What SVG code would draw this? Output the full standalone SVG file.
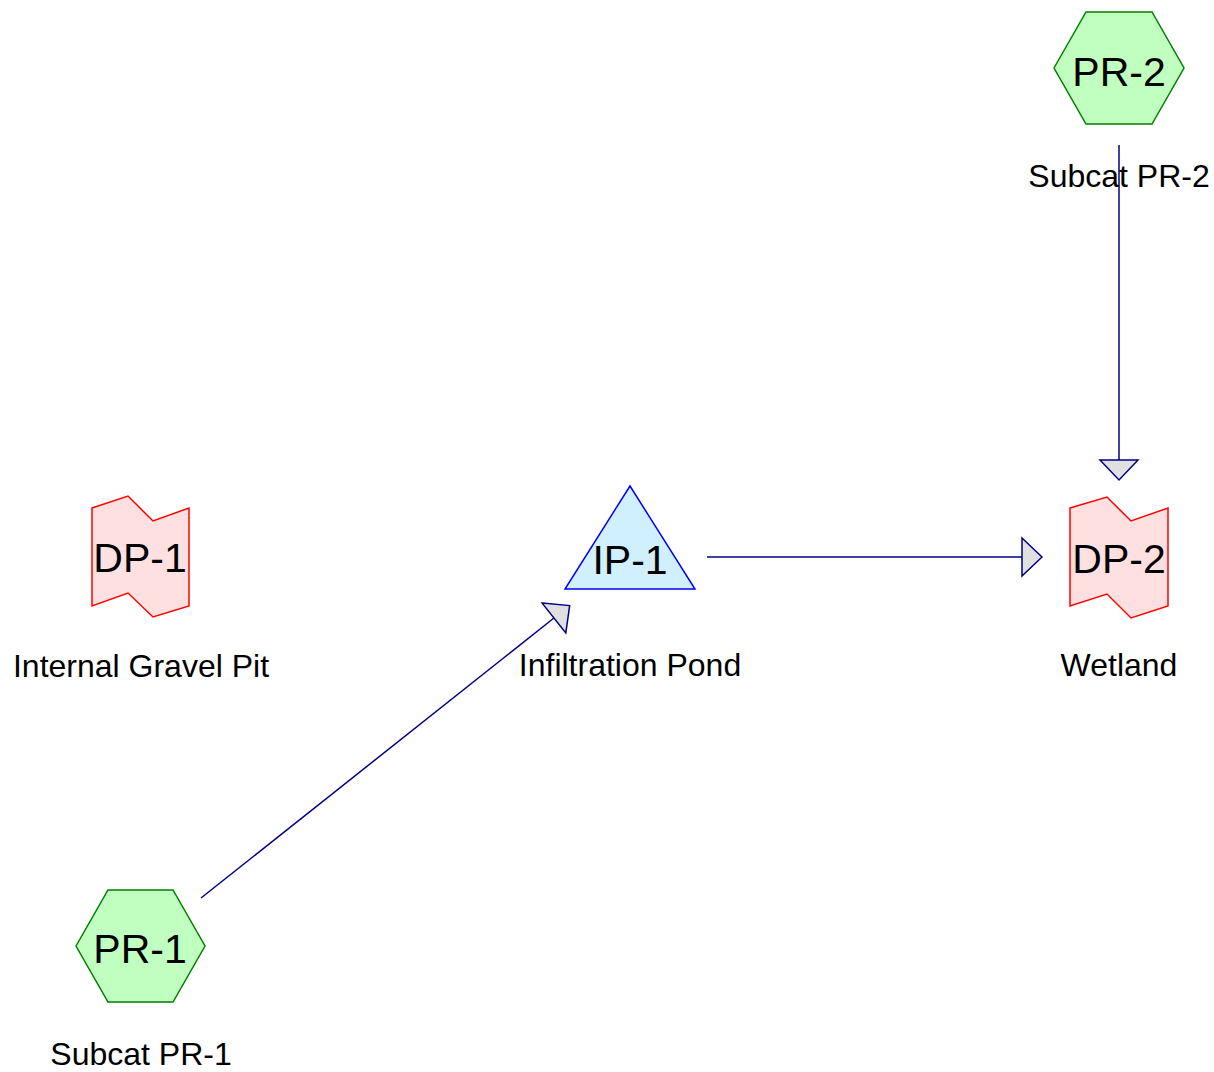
<svg xmlns="http://www.w3.org/2000/svg" width="1214" height="1072" viewBox="0 0 1214 1072">
  <style>
    .subcat { fill: #c0ffc0; stroke: #008000; stroke-width: 1.5; }
    .link { fill: #ffe0e0; stroke: #ff0000; stroke-width: 1.5; }
    .pond { fill: #d0f0ff; stroke: #0000ff; stroke-width: 1.5; }
    .id { font-family: "Liberation Sans", Arial, sans-serif; font-size: 41px; fill: #000; text-anchor: middle; }
    .label { font-family: "Liberation Sans", Arial, sans-serif; font-size: 32px; fill: #000; text-anchor: middle; }
    .flow { fill: none; stroke: #000080; stroke-width: 1.5; marker-end: url(#head); }
  </style>
  <defs>
    <marker id="head" markerUnits="userSpaceOnUse" markerWidth="24" markerHeight="44" viewBox="-2 -21 24 42" refX="0" refY="0" orient="auto" overflow="visible">
      <path d="M0,-19 L20,0 L0,19 Z" fill="#e0e0e0" stroke="#000080" stroke-width="1.5" stroke-linejoin="miter"/>
    </marker>
  </defs>
  <rect width="1214" height="1072" fill="#ffffff"/>

  <!-- routing connectors -->
  <g id="connectors">
    <path class="flow" d="M1119,145 L1119,460"/>
    <path class="flow" d="M707,557 L1022,557"/>
    <path class="flow" d="M201,898 L554,618"/>
  </g>

  <!-- subcatchment PR-2 -->
  <g id="PR-2">
    <polygon class="subcat" points="1054,68 1086,12 1152,12 1184,68 1152,124 1086,124"/>
    <text class="id" x="1119" y="86">PR-2</text>
    <text class="label" x="1119" y="187">Subcat PR-2</text>
  </g>

  <!-- design point DP-1 -->
  <g id="DP-1">
    <polygon class="link" points="92,508 128,496 153,521 189,508 189,606 153,617 128,593 92,606"/>
    <text class="id" x="140" y="572">DP-1</text>
    <text class="label" x="141" y="677">Internal Gravel Pit</text>
  </g>

  <!-- infiltration pond IP-1 -->
  <g id="IP-1">
    <polygon class="pond" points="630,486 565,589 695,589"/>
    <text class="id" x="630" y="574">IP-1</text>
    <text class="label" x="630" y="676">Infiltration Pond</text>
  </g>

  <!-- design point DP-2 -->
  <g id="DP-2">
    <polygon class="link" points="1070,508 1107,497 1131,521 1168,508 1168,606 1131,618 1107,594 1070,606"/>
    <text class="id" x="1119" y="573">DP-2</text>
    <text class="label" x="1119" y="676">Wetland</text>
  </g>

  <!-- subcatchment PR-1 -->
  <g id="PR-1">
    <polygon class="subcat" points="76,946 108,890 173,890 205,946 173,1002 108,1002"/>
    <text class="id" x="140" y="963">PR-1</text>
    <text class="label" x="141" y="1065">Subcat PR-1</text>
  </g>
</svg>
